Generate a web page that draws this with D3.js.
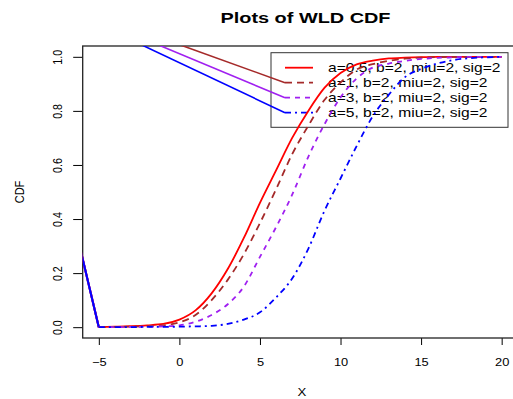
<!DOCTYPE html>
<html>
<head>
<meta charset="utf-8">
<script src="https://cdn.jsdelivr.net/npm/d3@7/dist/d3.min.js"></script>
<style>
  body { margin: 0; background: #fff; }
  text { font-family: "Liberation Sans", Arial, Helvetica, sans-serif; fill: #000; }
</style>
</head>
<body>
<div id="chart"></div>
<script>
// values
const xs = [-5,-4,-3,-2,-1,0,1,2,3,4,5,6,7,8,9,10,11,12,13,14,15,16,17,18,19,20];
const cdfA05 = [0,0.002,0.004,0.007,0.012,0.028,0.062,0.125,0.215,0.33,0.46,0.58,0.70,0.80,0.885,0.94,0.972,0.986,0.994,0.997,0.999,1,1,1,1,1];
const cdfA1  = [0,0.001,0.002,0.004,0.007,0.018,0.045,0.10,0.175,0.27,0.385,0.51,0.64,0.745,0.84,0.905,0.953,0.973,0.985,0.993,0.997,0.999,1,1,1,1];
const cdfA3  = [0,0,0.001,0.002,0.003,0.007,0.02,0.045,0.085,0.15,0.26,0.37,0.49,0.63,0.75,0.85,0.92,0.96,0.975,0.985,0.992,0.996,0.998,1,1,1];
const cdfA5  = [0,0,0,0.001,0.001,0.002,0.003,0.005,0.012,0.028,0.055,0.11,0.18,0.29,0.43,0.55,0.67,0.78,0.86,0.925,0.955,0.975,0.988,0.995,0.998,1];
const seriesNames = ['a=0.5, b=2, miu=2, sig=2','a=1, b=2, miu=2, sig=2','a=3, b=2, miu=2, sig=2','a=5, b=2, miu=2, sig=2'];
const seriesColors = ['#FF0000','#A52A2A','#A020F0','#0000FF'];
const seriesDash = [null,'7,5','5,5','6,4,2,4'];
// every curve starts from a stray point outside the plot
const strayPoint = [-10, 1.26];
const hasStray = [false,true,true,true];
const xTicks = [-5,0,5,10,15,20];
const yTicks = [0,0.2,0.4,0.6,0.8,1.0];

let width = 513,
    height = 399,
    sx = 1.2, // text is a bit wider than tall in the picture
    svg = d3.select('#chart').append('svg')
        .attr('width', width)
        .attr('height', height),
    x = d3.scaleLinear().domain([-6, 21.2]).range([82.7, 521]),
    y = d3.scaleLinear().domain([-0.04, 1.04]).range([338, 46]);

let curves = [cdfA05, cdfA1, cdfA3, cdfA5].map((vals, i) => ({
    name: seriesNames[i],
    color: seriesColors[i],
    dash: seriesDash[i],
    stray: hasStray[i],
    points: xs.map((v, k) => [v, vals[k]])
}));

svg.append('clipPath').attr('id', 'plotclip')
  .append('rect')
    .attr('x', x.range()[0]).attr('y', y.range()[1])
    .attr('width', x.range()[1] - x.range()[0])
    .attr('height', y.range()[0] - y.range()[1]);

// title
svg.append('text')
    .attr('transform', 'translate(305.5,23.3) scale(1.42,1)')
    .attr('text-anchor', 'middle')
    .attr('font-weight', 'bold')
    .attr('font-size', 14)
    .text('Plots of WLD CDF');

// axes
let xAxis = svg.append('g')
    .attr('transform', 'translate(0,' + y.range()[0] + ')')
    .call(d3.axisBottom(x).tickValues(xTicks).tickSize(7).tickSizeOuter(0).tickFormat(d3.format('d')));
xAxis.select('.domain').remove();
xAxis.selectAll('text')
    .attr('y', 28.5).attr('dy', 0)
    .attr('font-size', 10.7)
    .attr('transform', 'scale(' + sx + ',1)');

let yAxis = svg.append('g')
    .attr('transform', 'translate(' + x.range()[0] + ',0)')
    .call(d3.axisLeft(y).tickValues(yTicks).tickSize(9.5).tickSizeOuter(0).tickFormat(d3.format('.1f')));
yAxis.select('.domain').remove();
yAxis.selectAll('text')
    .attr('x', 0).attr('y', 0).attr('dy', 0)
    .attr('text-anchor', 'middle')
    .attr('font-size', 10.7)
    .attr('transform', 'translate(-21,0) scale(' + sx + ',1) rotate(-90)');
svg.selectAll('.tick line').attr('stroke', '#000');

// axis titles
svg.append('text')
    .attr('transform', 'translate(302,396) scale(' + sx + ',1)')
    .attr('text-anchor', 'middle')
    .attr('font-size', 11)
    .text('X');
svg.append('text')
    .attr('transform', 'translate(24,192) scale(' + sx + ',1) rotate(-90)')
    .attr('text-anchor', 'middle')
    .attr('font-size', 11)
    .text('CDF');

// box
svg.append('rect')
    .attr('x', x.range()[0]).attr('y', y.range()[1])
    .attr('width', x.range()[1] - x.range()[0])
    .attr('height', y.range()[0] - y.range()[1])
    .attr('fill', 'none')
    .attr('stroke', '#222')
    .attr('stroke-width', 1.3);

// legend
let lg = { x: 271, y: 52.7, w: 237, h: 74.6, row0: 67.7, rowH: 15, s0: 285, s1: 313, tx: 328 };
svg.append('rect')
    .attr('x', lg.x).attr('y', lg.y)
    .attr('width', lg.w).attr('height', lg.h)
    .attr('fill', 'none')
    .attr('stroke', '#333')
    .attr('stroke-width', 1);

let legendRow = svg.selectAll('g.legend')
    .data(curves)
    .enter().append('g')
    .attr('class', 'legend')
    .attr('transform', (d, i) => 'translate(0,' + (lg.row0 + lg.rowH * i) + ')');
legendRow.append('line')
    .attr('x1', lg.s0).attr('x2', lg.s1)
    .attr('stroke', (d) => d.color)
    .attr('stroke-width', 1.8)
    .attr('stroke-dasharray', (d) => d.dash);
legendRow.append('text')
    .attr('transform', 'translate(' + lg.tx + ',4.6) scale(1.2,1)')
    .attr('font-size', 13)
    .text((d) => d.name);

// curves
let plot = svg.append('g').attr('clip-path', 'url(#plotclip)');
let curveLine = d3.line()
    .x((d) => x(d[0]))
    .y((d) => y(d[1]))
    .curve(d3.curveMonotoneX);

// stray lines to the legend samples
plot.selectAll('line.stray')
    .data(curves.filter((d) => d.stray))
    .enter().append('line')
    .attr('class', 'stray')
    .attr('x1', x(strayPoint[0])).attr('y1', y(strayPoint[1]))
    .attr('x2', lg.s0)
    .attr('y2', (d) => lg.row0 + lg.rowH * curves.indexOf(d))
    .attr('stroke', (d) => d.color)
    .attr('stroke-width', 1.6);

// lead-in from the stray point to the first value
plot.selectAll('line.lead')
    .data(curves)
    .enter().append('line')
    .attr('class', 'lead')
    .attr('x1', x(strayPoint[0])).attr('y1', y(strayPoint[1]))
    .attr('x2', (d) => x(d.points[0][0]))
    .attr('y2', (d) => y(d.points[0][1]))
    .attr('stroke', (d) => d.color)
    .attr('stroke-width', 2);

plot.selectAll('path.curve')
    .data(curves)
    .enter().append('path')
    .attr('class', 'curve')
    .attr('d', (d) => curveLine(d.points))
    .attr('fill', 'none')
    .attr('stroke', (d) => d.color)
    .attr('stroke-width', 1.8)
    .attr('stroke-dasharray', (d) => d.dash);
</script>
</body>
</html>
